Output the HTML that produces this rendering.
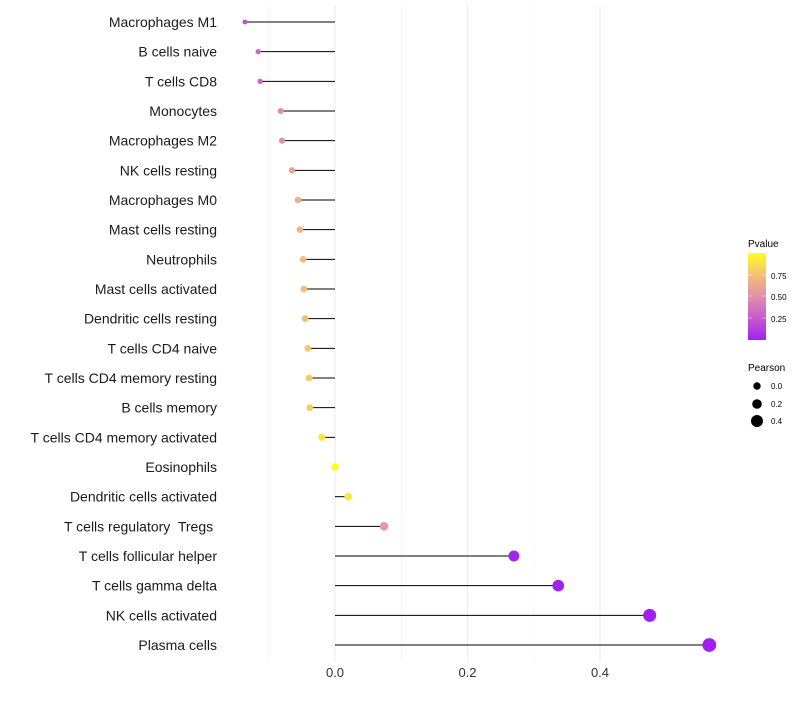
<!DOCTYPE html>
<html><head><meta charset="utf-8"><style>
body{margin:0;background:#fff;font-family:"Liberation Sans",sans-serif;}
</style></head><body>
<svg id="chart" width="800" height="700" xmlns="http://www.w3.org/2000/svg" font-family="Liberation Sans, sans-serif">
<defs><linearGradient id="pg" x1="0" y1="1" x2="0" y2="0">
<stop offset="0" stop-color="#a020f0"/><stop offset="0.25" stop-color="#c85ad0"/><stop offset="0.5" stop-color="#e08fa8"/><stop offset="0.75" stop-color="#f3c078"/><stop offset="1" stop-color="#ffff20"/></linearGradient></defs>
<g id="grid"></g><g id="marks"></g><g id="ylabels"></g><g id="xlabels"></g>
<g>
<text x="748" y="247" font-size="10" fill="#000">Pvalue</text>
<rect x="748" y="253" width="18" height="87" fill="url(#pg)"/>
<g font-size="8" fill="#000">
<text x="771" y="279">0.75</text><text x="771" y="300">0.50</text><text x="771" y="322">0.25</text></g>
<g stroke="#fff" stroke-width="0.6" opacity="0.7"><line x1="748" x2="752" y1="275" y2="275"/><line x1="762" x2="766" y1="275" y2="275"/><line x1="748" x2="752" y1="296" y2="296"/><line x1="762" x2="766" y1="296" y2="296"/><line x1="748" x2="752" y1="318" y2="318"/><line x1="762" x2="766" y1="318" y2="318"/></g>
</g>
<g>
<text x="748" y="371" font-size="10" fill="#000">Pearson</text>
<circle cx="757" cy="386" r="3.7" fill="#000"/><text x="771" y="389" font-size="8">0.0</text>
<circle cx="757" cy="404" r="4.8" fill="#000"/><text x="771" y="407" font-size="8">0.2</text>
<circle cx="757" cy="421" r="6" fill="#000"/><text x="771" y="424" font-size="8">0.4</text>
</g>
</svg>
<script>
const categories=["Macrophages M1","B cells naive","T cells CD8","Monocytes","Macrophages M2","NK cells resting","Macrophages M0","Mast cells resting","Neutrophils","Mast cells activated","Dendritic cells resting","T cells CD4 naive","T cells CD4 memory resting","B cells memory","T cells CD4 memory activated","Eosinophils","Dendritic cells activated","T cells regulatory  Tregs ","T cells follicular helper","T cells gamma delta","NK cells activated","Plasma cells"];
const pearson=[-0.136,-0.116,-0.113,-0.082,-0.080,-0.065,-0.056,-0.053,-0.048,-0.047,-0.045,-0.041,-0.039,-0.038,-0.020,0.0,0.020,0.074,0.270,0.337,0.475,0.565];
const pvalue=[0.2,0.3,0.3,0.5,0.5,0.6,0.68,0.7,0.72,0.72,0.73,0.78,0.8,0.8,0.9,0.99,0.9,0.55,0.02,0.01,0.0,0.0];
const xTicks=[0,0.2,0.4];
const xMinor=[-0.1,0.1,0.3];
const ns="http://www.w3.org/2000/svg";
const x=v=>335+v*662.5;
const y=i=>22+i*29.667;
const r=v=>Math.sqrt(Math.max(2.5,14+60*v));
const stops=[[0,[160,32,240]],[0.25,[200,90,208]],[0.5,[224,143,168]],[0.75,[243,192,120]],[1,[255,255,32]]];
function col(p){for(let k=0;k<stops.length-1;k++){const a=stops[k],b=stops[k+1];if(p<=b[0]){const t=(p-a[0])/(b[0]-a[0]);return "rgb("+a[1].map((c,j)=>Math.round(c+(b[1][j]-c)*t)).join(",")+")";}}return "rgb(255,255,32)";}
function mk(tag,at,parent){const e=document.createElementNS(ns,tag);for(const k in at)e.setAttribute(k,at[k]);document.getElementById(parent).appendChild(e);return e;}
xMinor.forEach(v=>{const l=mk("line",{x1:x(v),x2:x(v),y1:5,y2:662,stroke:"#f3f3f3","stroke-width":0.6},"grid");

});
xTicks.forEach(v=>{const l=mk("line",{x1:x(v),x2:x(v),y1:5,y2:662,stroke:"#ebebeb","stroke-width":1},"grid");


const t=mk("text",{x:x(v),y:677,"font-size":13,"text-anchor":"middle",fill:"#333"},"xlabels");t.textContent=v.toFixed(1);

});
categories.forEach((c,i)=>{const v=pearson[i];
const s=mk("line",{x1:x(0),x2:x(v),y1:y(i),y2:y(i),stroke:"#000","stroke-width":1},"marks");


const d=mk("circle",{cx:x(v),cy:y(i),r:r(v),fill:col(pvalue[i])},"marks");


const t=mk("text",{x:217,y:y(i)+5,"font-size":14,"text-anchor":"end",fill:"#1a1a1a",style:"white-space:pre"},"ylabels");t.textContent=c;

});
</script>
</body></html>
